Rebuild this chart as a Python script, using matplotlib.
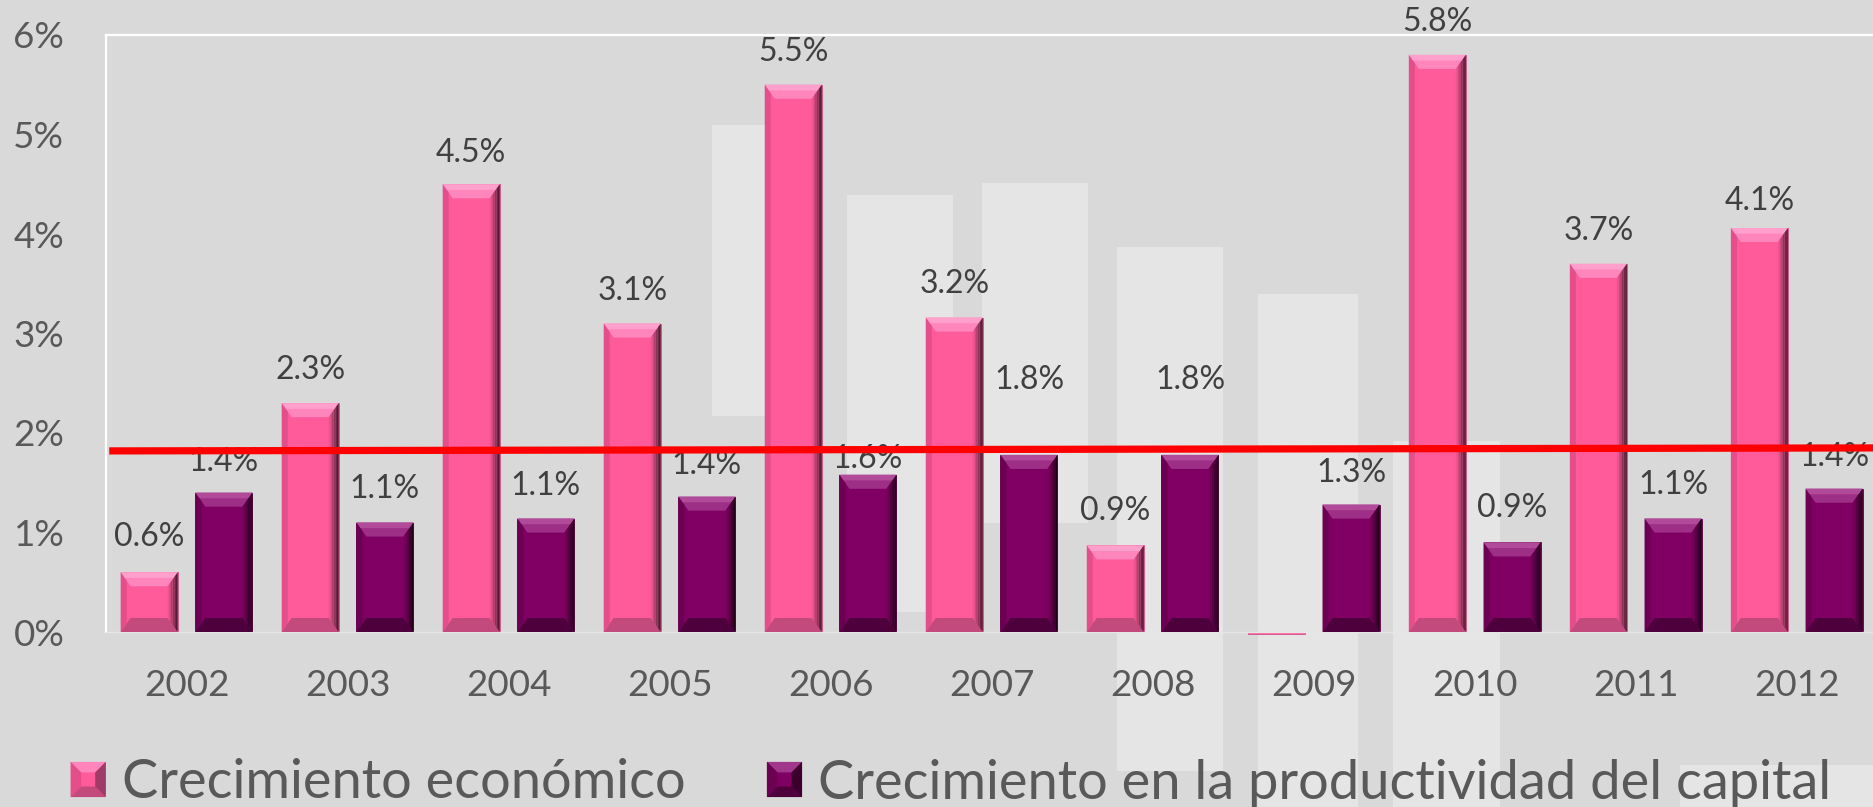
import numpy as np
import matplotlib
matplotlib.use("Agg")
import matplotlib.pyplot as plt
from matplotlib.patches import Polygon, Rectangle, Patch
from matplotlib.legend_handler import HandlerBase
from matplotlib.colors import to_rgb

# ---------------- data ----------------
years = ["2002", "2003", "2004", "2005", "2006", "2007", "2008", "2009", "2010", "2011", "2012"]
crecimiento_economico = [0.6, 2.3, 4.5, 3.1, 5.5, 3.16, 0.87, -0.02, 5.8, 3.7, 4.06]
productividad_capital = [1.4, 1.1, 1.14, 1.36, 1.58, 1.78, 1.78, 1.28, 0.9, 1.14, 1.44]
linea_x = [-0.48, 10.48]
linea_y = [1.82, 1.85]
y_ticks = [0, 1, 2, 3, 4, 5, 6]
y_tick_labels = ["0%", "1%", "2%", "3%", "4%", "5%", "6%"]
series_names = ["Crecimiento económico", "Crecimiento en la productividad del capital"]
show_label_eco = [True, True, True, True, True, True, True, False, True, True, True]

# label offsets above bar tops (pixels) - styling only
off_eco = [35, 33, 31, 33, 33, 34, 34, 0, 33, 33, 27]
off_cap = [31, 34, 33, 32, 16, 75, 75, 32, 34, 34, 32]

# ---------------- style ----------------
FW, FH, DPI = 1874, 807, 100
BG = "#D9D9D9"
PINK = "#FF5A9A"
PURPLE = "#7F0062"
TICK_COL = "#595959"
LAB_COL = "#404040"
FONT = "Lato"

plt.rcParams["font.family"] = [FONT, "DejaVu Sans"]

fig = plt.figure(figsize=(FW / DPI, FH / DPI), dpi=DPI, facecolor=BG)

# faint background rectangles (decor from the original's backdrop)
bg_rects = [(712, 125, 790, 416), (847, 195, 953, 612), (982, 183, 1088, 523),
            (1117, 247, 1223, 771), (1258, 294, 1358, 807), (1393, 441, 1500, 807),
            (1680, 765, 1874, 807)]
for (xa, ya, xb, yb) in bg_rects:
    r = Rectangle((xa / FW, 1 - yb / FH), (xb - xa) / FW, (yb - ya) / FH,
                  transform=fig.transFigure, facecolor="#E5E5E5", edgecolor="none", zorder=-5)
    fig.patches.append(r)

ax_left, ax_top, ax_bottom, ax_right = 106, 35, 632, 1874
ax = fig.add_axes([ax_left / FW, 1 - ax_bottom / FH, (ax_right - ax_left) / FW, (ax_bottom - ax_top) / FH])
ax.set_facecolor("none")

XMIN, XMAX = -0.5, 10.48
YMIN, YMAX = 0, 6
ax.set_xlim(XMIN, XMAX)
ax.set_ylim(YMIN, YMAX)
pxx = (ax_right - ax_left) / (XMAX - XMIN)
pxy = (ax_bottom - ax_top) / (YMAX - YMIN)

x = np.arange(len(years))
bw = 0.354
off = 0.232


def mix(c1, c2, t):
    a = np.array(to_rgb(c1)); b = np.array(to_rgb(c2))
    return tuple(a * (1 - t) + b * t)


def bevel(ax, xc, width, h, face, top, topedge, bottom, left, right_dark):
    if h <= 0.05:
        return
    x0, x1 = xc - width / 2, xc + width / 2
    y0, y1 = 0, h
    bx = 10 / pxx
    by = min(14 / pxy, h / 2.2)
    z = 3
    # top bevel
    ax.add_patch(Polygon([(x0, y1), (x1, y1), (x1 - bx, y1 - by), (x0 + bx, y1 - by)],
                         closed=True, facecolor=top, edgecolor="none", zorder=z))
    ax.add_patch(Polygon([(x0, y1), (x1, y1), (x1 - bx * 0.4, y1 - by * 0.4), (x0 + bx * 0.4, y1 - by * 0.4)],
                         closed=True, facecolor=topedge, edgecolor="none", zorder=z))
    # bottom bevel
    ax.add_patch(Polygon([(x0, y0), (x1, y0), (x1 - bx, y0 + by), (x0 + bx, y0 + by)],
                         closed=True, facecolor=bottom, edgecolor="none", zorder=z))
    # left bevel
    ax.add_patch(Polygon([(x0, y0), (x0, y1), (x0 + bx * 0.6, y1 - by * 0.6), (x0 + bx * 0.6, y0 + by * 0.6)],
                         closed=True, facecolor=left, edgecolor="none", zorder=z))
    # right bevel gradient
    n = 6
    for k in range(n):
        xa = x1 - bx * k / n
        xb = x1 - bx * (k + 1) / n
        col = mix(right_dark, face, (k + 0.5) / n)
        ax.add_patch(Polygon([(xa, y0 + by * k / n), (xa, y1 - by * k / n),
                              (xb, y1 - by * (k + 1) / n), (xb, y0 + by * (k + 1) / n)],
                             closed=True, facecolor=col, edgecolor="none", zorder=z))


bars_eco = ax.bar(x - off, crecimiento_economico, width=bw, color=PINK, zorder=2, clip_on=False,
                  edgecolor="#D0508A", linewidth=0.6)
bars_cap = ax.bar(x + off, productividad_capital, width=bw, color=PURPLE, zorder=2, clip_on=False,
                  edgecolor="#5A0045", linewidth=0.6)

for b in bars_eco:
    bevel(ax, b.get_x() + b.get_width() / 2, b.get_width(), b.get_height(), PINK,
          "#FF86BD", "#FFA0CC", "#C24A7C", "#E44E8A", "#3A1828")
for b in bars_cap:
    bevel(ax, b.get_x() + b.get_width() / 2, b.get_width(), b.get_height(), PURPLE,
          "#9E2F86", "#B24A9A", "#4E003C", "#6C0053", "#1A0010")

# data labels
for i, b in enumerate(bars_eco):
    if not show_label_eco[i]:
        continue
    v = crecimiento_economico[i]
    ax.annotate(f"{v:.1f}%", (b.get_x() + b.get_width() / 2, b.get_height()),
                xytext=(0, off_eco[i] * 72 / DPI), textcoords="offset points",
                ha="center", va="center", fontsize=23, color=LAB_COL, zorder=5)
for i, b in enumerate(bars_cap):
    v = productividad_capital[i]
    ax.annotate(f"{v:.1f}%", (b.get_x() + b.get_width() / 2, b.get_height()),
                xytext=(0, off_cap[i] * 72 / DPI), textcoords="offset points",
                ha="center", va="center", fontsize=23, color=LAB_COL, zorder=5)

# red reference line
ax.plot(linea_x, linea_y, color="#FF0000", linewidth=5.2, solid_capstyle="butt", zorder=10, clip_on=False)

# axes styling
ax.set_yticks(y_ticks)
ax.set_yticklabels(y_tick_labels)
ax.set_xticks(x)
ax.set_xticklabels(years)
ax.tick_params(axis="y", length=0, pad=30, labelsize=26.5, labelcolor=TICK_COL)
ax.tick_params(axis="x", length=0, pad=27, labelsize=26.5, labelcolor=TICK_COL)
for s in ["left", "top"]:
    ax.spines[s].set_color("white")
    ax.spines[s].set_linewidth(1.6)
ax.spines["right"].set_visible(False)
ax.spines["bottom"].set_color("#E6E6E6")
ax.spines["bottom"].set_linewidth(1.0)


class BevelHandler(HandlerBase):
    def __init__(self, face, top, bottom, left, right):
        super().__init__()
        self.c = (face, top, bottom, left, right)

    def create_artists(self, legend, orig_handle, xdescent, ydescent, width, height, fontsize, trans):
        face, top, bottom, left, right = self.c
        s = min(width, height)
        cx = -xdescent + width / 2
        cy = -ydescent + height / 2
        x0, x1, y0, y1 = cx - s / 2, cx + s / 2, cy - s / 2, cy + s / 2
        i = s * 0.3
        arts = [
            Polygon([(x0, y0), (x1, y0), (x1, y1), (x0, y1)], closed=True, facecolor=face, edgecolor="none"),
            Polygon([(x0, y1), (x1, y1), (x1 - i, y1 - i), (x0 + i, y1 - i)], closed=True, facecolor=top, edgecolor="none"),
            Polygon([(x0, y0), (x1, y0), (x1 - i, y0 + i), (x0 + i, y0 + i)], closed=True, facecolor=bottom, edgecolor="none"),
            Polygon([(x0, y0), (x0, y1), (x0 + i, y1 - i), (x0 + i, y0 + i)], closed=True, facecolor=left, edgecolor="none"),
            Polygon([(x1, y0), (x1, y1), (x1 - i, y1 - i), (x1 - i, y0 + i)], closed=True, facecolor=right, edgecolor="none"),
        ]
        for a in arts:
            a.set_transform(trans)
        return arts


h1 = Patch(facecolor=PINK)
h2 = Patch(facecolor=PURPLE)
leg = fig.legend([h1, h2], series_names, loc="center", bbox_to_anchor=(951 / FW, 1 - 783 / FH),
                 ncol=2, frameon=False, fontsize=39, labelcolor=TICK_COL,
                 handlelength=0.65, handleheight=0.65, handletextpad=0.3, columnspacing=1.5,
                 handler_map={h1: BevelHandler(PINK, "#FF86BD", "#C24A7C", "#E44E8A", "#A03A66"),
                              h2: BevelHandler(PURPLE, "#A0378A", "#4E003C", "#6C0053", "#3C002C")})

fig.savefig("out.png", dpi=DPI, facecolor=BG)
